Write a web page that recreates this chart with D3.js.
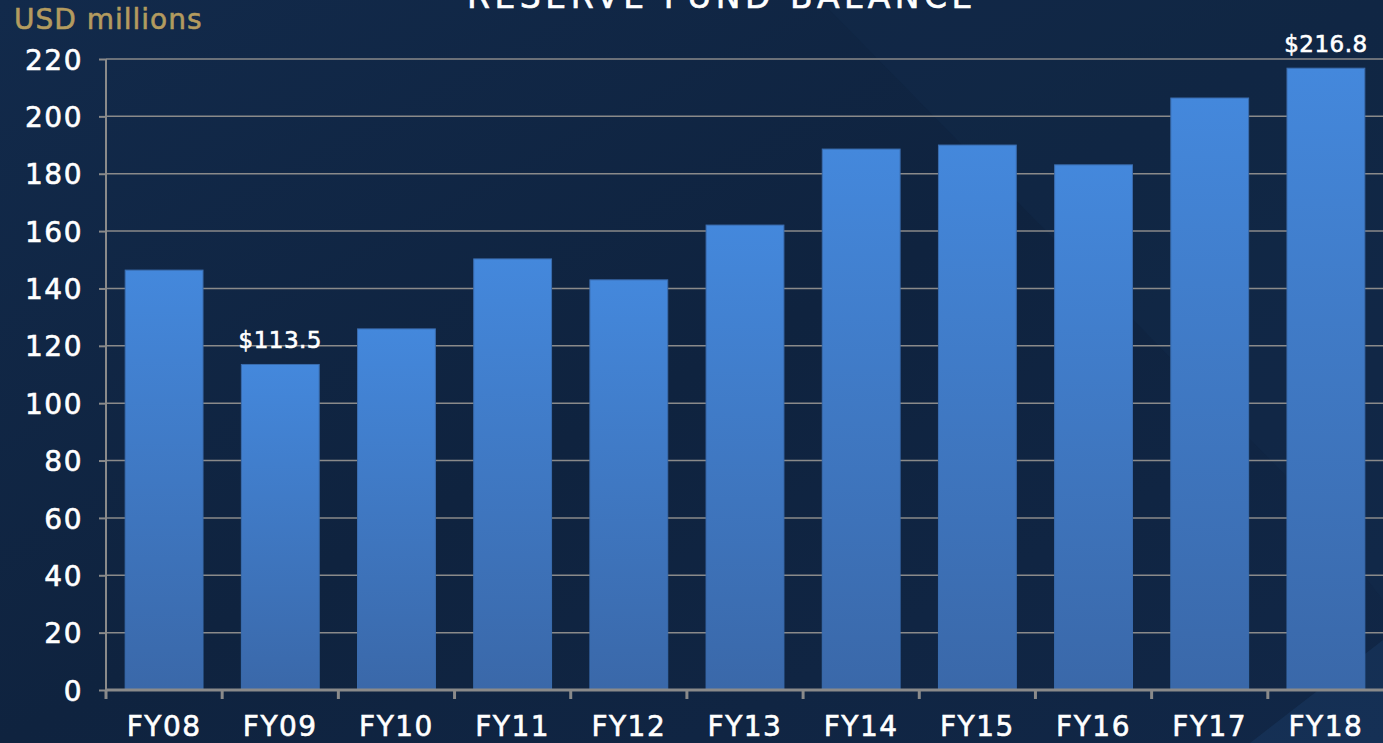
<!DOCTYPE html>
<html>
<head>
<meta charset="utf-8">
<script src="https://cdn.jsdelivr.net/npm/d3@7"></script>
<style>
  html, body { margin: 0; padding: 0; background: #0f2440; overflow: hidden; }
  svg text { font-family: "DejaVu Sans", sans-serif; }
</style>
</head>
<body>
<div id="chart"></div>
<script>
// Chart data
const years = ['FY08', 'FY09', 'FY10', 'FY11', 'FY12', 'FY13', 'FY14', 'FY15', 'FY16', 'FY17', 'FY18'];
const balances = [146.4, 113.5, 125.9, 150.3, 143.0, 162.1, 188.6, 190.0, 183.1, 206.4, 216.8];
const yTicks = [0, 20, 40, 60, 80, 100, 120, 140, 160, 180, 200, 220];
const labelled = {'FY09': '$113.5', 'FY18': '$216.8'};

let
w = 1383,
h = 743,
plotL = 106, // y axis position
plotR = 1384,
plotT = 59, // position of 220
plotB = 690, // position of 0
gridColor = '#8a8a8a',

xScale = d3.scaleBand().domain(years).range([plotL, plotR]).paddingInner(0.33).paddingOuter(0.165),
yScale = d3.scaleLinear().domain([0, 220]).range([plotB, plotT]),

svg = d3.select('#chart').append('svg').attr('width', w).attr('height', h);

// Background
const defs = svg.append('defs');
const bg = defs.append('linearGradient').attr('id', 'bg').attr('x1', 0).attr('y1', 0).attr('x2', 1).attr('y2', 1);
bg.append('stop').attr('offset', '0%').attr('stop-color', '#122a4b');
bg.append('stop').attr('offset', '50%').attr('stop-color', '#0f233f');
bg.append('stop').attr('offset', '100%').attr('stop-color', '#112747');

const barGrad = defs.append('linearGradient').attr('id', 'bar').attr('x1', 0).attr('y1', 0).attr('x2', 0).attr('y2', 1);
barGrad.append('stop').attr('offset', '0%').attr('stop-color', '#4488dc');
barGrad.append('stop').attr('offset', '100%').attr('stop-color', '#3a68a9');

svg.append('rect').attr('width', w).attr('height', h).attr('fill', 'url(#bg)');
// faint diagonal facets in the backdrop
svg.append('polygon').attr('points', '820,0 1383,0 1383,600 1290,480')
  .attr('fill', '#14304f').attr('opacity', 0.3);
svg.append('polygon').attr('points', '1383,640 1383,743 1250,743')
  .attr('fill', '#1b3b66').attr('opacity', 0.45);

// Gridlines
svg.append('g').selectAll('line').data(yTicks.filter(t => t > 0)).enter().append('line')
  .attr('x1', plotL).attr('x2', plotR)
  .attr('y1', d => yScale(d)).attr('y2', d => yScale(d))
  .attr('stroke', gridColor).attr('stroke-width', 1.5);

// Bars
svg.append('g').selectAll('rect').data(years).enter().append('rect')
  .attr('x', d => xScale(d))
  .attr('width', xScale.bandwidth())
  .attr('y', (d, i) => yScale(balances[i]))
  .attr('height', (d, i) => plotB - yScale(balances[i]))
  .attr('fill', 'url(#bar)')
  .attr('stroke', '#3a6cae').attr('stroke-width', 1);

// Slightly heavier text to mimic the medium-weight face
const heavy = sel => sel.attr('stroke', 'currentColor').attr('stroke-width', 0.6);

// Y axis
const yAxis = svg.append('g').attr('transform', 'translate(' + plotL + ',0)')
  .call(d3.axisLeft(yScale).tickValues(yTicks).tickSize(7).tickPadding(16));
yAxis.selectAll('path, line').attr('stroke', gridColor).attr('stroke-width', 2);
yAxis.select('.domain').attr('d', 'M0,' + plotT + 'V' + plotB);
yAxis.selectAll('text').attr('fill', '#fff').style('color', '#fff').attr('font-size', 28)
  .attr('letter-spacing', 1.5)
  .attr('font-family', '"DejaVu Sans", sans-serif').attr('dy', '0.36em').call(heavy);

// X axis with ticks between categories
const xAxis = svg.append('g').attr('transform', 'translate(0,' + plotB + ')')
  .call(d3.axisBottom(xScale).tickSize(0).tickPadding(26));
xAxis.select('.domain').attr('stroke', gridColor).attr('stroke-width', 3)
  .attr('d', 'M' + plotL + ',0H' + plotR);
xAxis.selectAll('text').attr('fill', '#fff').style('color', '#fff').attr('font-size', 28)
  .attr('letter-spacing', 1.5)
  .attr('font-family', '"DejaVu Sans", sans-serif').call(heavy);
xAxis.selectAll('.sep').data(years).enter().append('line')
  .attr('x1', d => xScale(d) - xScale.step() * xScale.paddingInner() / 2)
  .attr('x2', d => xScale(d) - xScale.step() * xScale.paddingInner() / 2)
  .attr('y1', 0).attr('y2', 9)
  .attr('stroke', gridColor).attr('stroke-width', 3);

// Value labels
svg.append('g').selectAll('text').data(years.filter(d => labelled[d])).enter().append('text')
  .attr('x', d => xScale(d) + xScale.bandwidth() / 2)
  .attr('y', d => yScale(balances[years.indexOf(d)]) - 16)
  .attr('text-anchor', 'middle').attr('fill', '#fff').style('color', '#fff').attr('font-size', 23)
  .attr('letter-spacing', 0.5)
  .text(d => labelled[d]).call(heavy);

// Title, cut off at the top as in the source slide
svg.append('text').attr('x', 722).attr('y', 8).attr('text-anchor', 'middle')
  .attr('fill', '#fff').style('color', '#fff').attr('font-size', 33).attr('letter-spacing', 4.5)
  .text('RESERVE FUND BALANCE').call(heavy);

// Units label
svg.append('text').attr('x', 14).attr('y', 29).attr('fill', '#b39b5f').style('color', '#b39b5f')
  .attr('font-size', 28).attr('letter-spacing', 1)
  .text('USD millions').call(heavy);
</script>
</body>
</html>
